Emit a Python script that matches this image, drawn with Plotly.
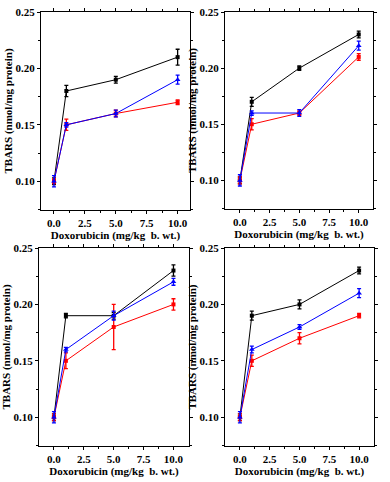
import plotly.graph_objects as go

dose = [0, 1, 5, 10]

# Panel values: black (squares), red (small squares), blue (triangles)
p1_black = [0.10, 0.18, 0.19, 0.21]
p1_black_err = [0.003, 0.005, 0.003, 0.007]
p1_red = [0.10, 0.15, 0.16, 0.17]
p1_red_err = [0.002, 0.005, 0.003, 0.002]
p1_blue = [0.10, 0.15, 0.16, 0.19]
p1_blue_err = [0.005, 0.002, 0.003, 0.004]

p2_black = [0.10, 0.17, 0.20, 0.23]
p2_black_err = [0.003, 0.004, 0.002, 0.003]
p2_red = [0.10, 0.15, 0.16, 0.21]
p2_red_err = [0.003, 0.005, 0.002, 0.003]
p2_blue = [0.10, 0.16, 0.16, 0.22]
p2_blue_err = [0.005, 0.002, 0.003, 0.004]

p3_black = [0.10, 0.19, 0.19, 0.23]
p3_black_err = [0.003, 0.002, 0.003, 0.005]
p3_red = [0.10, 0.15, 0.18, 0.20]
p3_red_err = [0.003, 0.007, 0.020, 0.005]
p3_blue = [0.10, 0.16, 0.19, 0.22]
p3_blue_err = [0.005, 0.002, 0.004, 0.003]

p4_black = [0.10, 0.19, 0.20, 0.23]
p4_black_err = [0.003, 0.004, 0.004, 0.003]
p4_red = [0.10, 0.15, 0.17, 0.19]
p4_red_err = [0.003, 0.005, 0.005, 0.002]
p4_blue = [0.10, 0.16, 0.18, 0.21]
p4_blue_err = [0.005, 0.003, 0.002, 0.004]

y_ticks = [0.10, 0.15, 0.20, 0.25]
x_ticks = [0.0, 2.5, 5.0, 7.5, 10.0]
x_title = "Doxorubicin (mg/kg  b. wt.)"
y_title = "TBARS (nmol/mg protein)"

panels = [
    (p1_black, p1_black_err, p1_red, p1_red_err, p1_blue, p1_blue_err),
    (p2_black, p2_black_err, p2_red, p2_red_err, p2_blue, p2_blue_err),
    (p3_black, p3_black_err, p3_red, p3_red_err, p3_blue, p3_blue_err),
    (p4_black, p4_black_err, p4_red, p4_red_err, p4_blue, p4_blue_err),
]

W, H = 390, 482
# pixel boxes (left, right, top, bottom)
boxes = [(41, 190, 12, 210), (225, 373, 12, 209), (39, 189, 248, 446), (225, 374, 248, 446)]
xranges = [[-1.05, 11.0], [-1.25, 11.2], [-1.25, 11.3], [-1.25, 11.25]]

fig = go.Figure()
font = dict(family="Liberation Serif", size=11, color="black")
tfont = dict(family="Liberation Serif", size=11, color="black", weight="bold")

for i, (bk, bke, rd, rde, bl, ble) in enumerate(panels):
    n = "" if i == 0 else str(i + 1)
    xa, ya = "x" + n, "y" + n
    series = [
        (bk, bke, "black", "square"),
        (rd, rde, "red", "square"),
        (bl, ble, "blue", "triangle-up"),
    ]
    for vals, errs, col, sym in series:
        fig.add_trace(go.Scatter(
            x=dose, y=vals, xaxis=xa, yaxis=ya, mode="lines+markers",
            line=dict(color=col, width=1),
            marker=dict(color=col, symbol=sym, size=4 if sym == "square" else 5),
            error_y=dict(type="data", array=errs, visible=True, color=col, thickness=1.3, width=2),
            showlegend=False, cliponaxis=False,
        ))
    l, r, t, b = boxes[i]
    axis_common = dict(
        showline=True, linecolor="black", linewidth=1, mirror="ticks",
        ticks="outside", ticklen=3, tickwidth=1, tickcolor="black",
        showgrid=False, zeroline=False, tickfont=tfont, automargin=False,
    )
    fig.update_layout(**{
        "xaxis" + n: dict(
            domain=[l / W, r / W], range=xranges[i], anchor=ya,
            tickvals=x_ticks, tickformat=".1f",
            minor=dict(tickvals=[1.25, 3.75, 6.25, 8.75], ticks="outside", ticklen=2, tickcolor="black"),
            title=dict(text=x_title, font=tfont, standoff=0),
            **axis_common,
        ),
        "yaxis" + n: dict(
            domain=[1 - b / H, 1 - t / H], range=[0.0745, 0.25], anchor=xa,
            tickvals=y_ticks, tickformat=".2f",
            minor=dict(tickvals=[0.075, 0.125, 0.175, 0.225], ticks="outside", ticklen=2, tickcolor="black"),
            title=dict(text=y_title, font=tfont, standoff=0),
            **axis_common,
        ),
    })

fig.update_layout(
    width=W, height=H, margin=dict(l=0, r=0, t=0, b=0),
    paper_bgcolor="white", plot_bgcolor="white", font=font,
)

fig.write_html(
    "out.html",
    config={"displayModeBar": False},
    post_script="document.body.style.margin='0';document.body.style.padding='0';",
)
